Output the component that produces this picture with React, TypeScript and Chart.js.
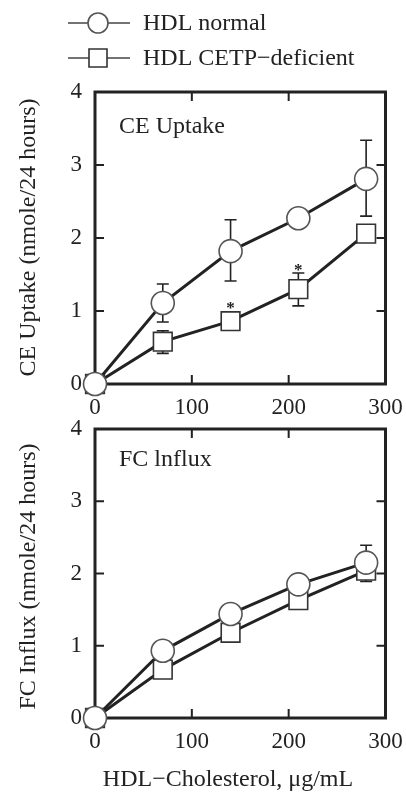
import React, { useEffect, useRef } from "react";
import { Chart, registerables } from "chart.js";

Chart.register(...registerables);

const FONT = "'Liberation Serif', 'Times New Roman', serif";
const INK = "#222222";

// ---- data ----
const doses = [0, 70, 140, 210, 280];
const legendLabels = ["HDL normal", "HDL CETP\u2212deficient"];

const ceNormal = [0, 1.11, 1.82, 2.27, 2.81];
const ceNormalHi = [null, 1.37, 2.25, null, 3.34];
const ceNormalLo = [null, 0.85, 1.41, null, 2.3];
const ceDeficient = [0, 0.58, 0.86, 1.3, 2.06];
const ceDeficientHi = [null, 0.73, null, 1.52, null];
const ceDeficientLo = [null, 0.42, null, 1.07, null];
const ceStars = [null, null, 1.09, 1.62, null];

const fcNormal = [0, 0.93, 1.44, 1.85, 2.15];
const fcNormalHi = [null, null, null, null, 2.39];
const fcNormalLo = [null, null, null, null, null];
const fcDeficient = [0, 0.67, 1.18, 1.63, 2.04];
const fcDeficientHi = [null, null, null, null, null];
const fcDeficientLo = [null, null, null, null, 1.89];
const fcStars = [null, null, null, null, null];

const xMin = 0, xMax = 300, xStep = 100;
const yMin = 0, yMax = 4, yStep = 1;

type Nullable = (number | null)[];

interface Panel {
  normal: number[];
  normalHi: Nullable;
  normalLo: Nullable;
  deficient: number[];
  deficientHi: Nullable;
  deficientLo: Nullable;
  stars: Nullable;
  panelTitle: string;
  yTitle: string;
  showLegend: boolean;
  showXTitle: boolean;
  canvasTop: number;
  canvasHeight: number;
  areaTop: number;
  areaBottom: number;
  yTitleY: number;
  panelTitleY: number;
}

const AREA_LEFT = 95;
const AREA_RIGHT = 385.5;
const W = 406;

const panels: Panel[] = [
  {
    normal: ceNormal, normalHi: ceNormalHi, normalLo: ceNormalLo,
    deficient: ceDeficient, deficientHi: ceDeficientHi, deficientLo: ceDeficientLo,
    stars: ceStars,
    panelTitle: "CE Uptake",
    yTitle: "CE Uptake (nmole/24 hours)",
    showLegend: true, showXTitle: false,
    canvasTop: 0, canvasHeight: 425, areaTop: 92, areaBottom: 384,
    yTitleY: 237.5, panelTitleY: 133,
  },
  {
    normal: fcNormal, normalHi: fcNormalHi, normalLo: fcNormalLo,
    deficient: fcDeficient, deficientHi: fcDeficientHi, deficientLo: fcDeficientLo,
    stars: fcStars,
    panelTitle: "FC lnflux",
    yTitle: "FC Influx (nmole/24 hours)",
    showLegend: false, showXTitle: true,
    canvasTop: 412, canvasHeight: 382, areaTop: 17, areaBottom: 306,
    yTitleY: 164.5, panelTitleY: 54,
  },
];

function drawCircle(ctx: CanvasRenderingContext2D, x: number, y: number, r: number) {
  ctx.beginPath();
  ctx.arc(x, y, r, 0, Math.PI * 2);
  ctx.fillStyle = "#ffffff";
  ctx.fill();
  ctx.lineWidth = 1.6;
  ctx.strokeStyle = "#555555";
  ctx.stroke();
}

function drawSquare(ctx: CanvasRenderingContext2D, x: number, y: number, h: number) {
  ctx.beginPath();
  ctx.rect(x - h, y - h, 2 * h, 2 * h);
  ctx.fillStyle = "#ffffff";
  ctx.fill();
  ctx.lineWidth = 1.6;
  ctx.strokeStyle = "#333333";
  ctx.stroke();
}

function makeDecor(p: Panel) {
  return {
    id: "decor",
    beforeDatasetsDraw(chart: any) {
      const ctx: CanvasRenderingContext2D = chart.ctx;
      const { left, right, top, bottom } = chart.chartArea;
      const xs = chart.scales.x;
      const ys = chart.scales.y;
      ctx.save();
      // frame
      ctx.strokeStyle = INK;
      ctx.lineWidth = 3;
      ctx.strokeRect(left, top, right - left, bottom - top);
      // inner ticks
      ctx.lineWidth = 2;
      const tl = 9;
      for (let v = xMin + xStep; v < xMax; v += xStep) {
        const px = xs.getPixelForValue(v);
        ctx.beginPath();
        ctx.moveTo(px, bottom);
        ctx.lineTo(px, bottom - tl);
        ctx.moveTo(px, top);
        ctx.lineTo(px, top + tl);
        ctx.stroke();
      }
      for (let v = yMin + yStep; v < yMax; v += yStep) {
        const py = ys.getPixelForValue(v);
        ctx.beginPath();
        ctx.moveTo(left, py);
        ctx.lineTo(left + tl, py);
        ctx.moveTo(right, py);
        ctx.lineTo(right - tl, py);
        ctx.stroke();
      }
      // error bars
      ctx.lineWidth = 1.6;
      ctx.strokeStyle = INK;
      const cap = 6;
      const series: [number[], Nullable, Nullable][] = [
        [p.deficient, p.deficientHi, p.deficientLo],
        [p.normal, p.normalHi, p.normalLo],
      ];
      series.forEach(([vals, hi, lo]) => {
        doses.forEach((d, i) => {
          const px = xs.getPixelForValue(d);
          const pv = ys.getPixelForValue(vals[i]);
          [hi[i], lo[i]].forEach((e) => {
            if (e === null || e === undefined) return;
            const pe = ys.getPixelForValue(e);
            ctx.beginPath();
            ctx.moveTo(px, pv);
            ctx.lineTo(px, pe);
            ctx.moveTo(px - cap, pe);
            ctx.lineTo(px + cap, pe);
            ctx.stroke();
          });
        });
      });
      ctx.restore();
    },
    afterDatasetsDraw(chart: any) {
      const ctx: CanvasRenderingContext2D = chart.ctx;
      const xs = chart.scales.x;
      const ys = chart.scales.y;
      ctx.save();
      ctx.fillStyle = INK;
      ctx.font = `bold 17px ${FONT}`;
      ctx.textAlign = "center";
      ctx.textBaseline = "alphabetic";
      doses.forEach((d, i) => {
        const s = p.stars[i];
        if (s === null || s === undefined) return;
        ctx.fillText("*", xs.getPixelForValue(d), ys.getPixelForValue(s) + 9);
      });
      ctx.restore();
    },
    afterDraw(chart: any) {
      const ctx: CanvasRenderingContext2D = chart.ctx;
      ctx.save();
      ctx.fillStyle = INK;
      ctx.font = `24px ${FONT}`;
      // panel title
      ctx.textAlign = "left";
      ctx.textBaseline = "alphabetic";
      ctx.fillText(p.panelTitle, 119, p.panelTitleY);
      // y title
      ctx.save();
      ctx.translate(29, p.yTitleY);
      ctx.rotate(-Math.PI / 2);
      ctx.textAlign = "center";
      ctx.textBaseline = "middle";
      ctx.fillText(p.yTitle, 0, 0);
      ctx.restore();
      // x title
      if (p.showXTitle) {
        ctx.textAlign = "center";
        ctx.textBaseline = "middle";
        ctx.fillText("HDL\u2212Cholesterol, \u03bcg/mL", 228, 368);
      }
      // legend
      if (p.showLegend) {
        const rows = [23, 58];
        rows.forEach((ry, i) => {
          ctx.beginPath();
          ctx.strokeStyle = "#444444";
          ctx.lineWidth = 1.6;
          ctx.moveTo(68, ry);
          ctx.lineTo(130, ry);
          ctx.stroke();
          if (i === 0) drawCircle(ctx, 98, ry, 10);
          else drawSquare(ctx, 98, ry, 9);
          ctx.fillStyle = INK;
          ctx.textAlign = "left";
          ctx.textBaseline = "middle";
          ctx.font = `24px ${FONT}`;
          ctx.fillText(legendLabels[i], 143, ry + 0.5);
        });
      }
      ctx.restore();
    },
  };
}

function PanelChart({ p }: { p: Panel }) {
  const ref = useRef<HTMLCanvasElement | null>(null);
  useEffect(() => {
    if (!ref.current) return;
    const chart = new Chart(ref.current, {
      type: "line",
      data: {
        datasets: [
          {
            label: legendLabels[0],
            data: doses.map((d, i) => ({ x: d, y: p.normal[i] })),
            borderColor: INK,
            borderWidth: 3,
            pointStyle: "circle",
            pointRadius: 11.5,
            pointBackgroundColor: "#ffffff",
            pointBorderColor: "#555555",
            pointBorderWidth: 1.6,
            clip: false,
            tension: 0,
          },
          {
            label: legendLabels[1],
            data: doses.map((d, i) => ({ x: d, y: p.deficient[i] })),
            borderColor: INK,
            borderWidth: 3,
            pointStyle: "rect",
            pointRadius: 13.2,
            pointBackgroundColor: "#ffffff",
            pointBorderColor: "#333333",
            pointBorderWidth: 1.6,
            clip: false,
            tension: 0,
          },
        ],
      },
      options: {
        animation: false,
        responsive: false,
        events: [],
        layout: {
          padding: { left: 0, top: p.areaTop, right: W - AREA_RIGHT, bottom: 0 },
        },
        plugins: {
          legend: { display: false },
          tooltip: { enabled: false },
          title: { display: false },
        },
        scales: {
          x: {
            type: "linear",
            min: xMin,
            max: xMax,
            grid: { display: false, drawTicks: false },
            border: { display: false },
            ticks: {
              stepSize: xStep,
              padding: 10,
              color: INK,
              font: { family: FONT, size: 23 },
              maxRotation: 0,
            },
            afterFit: (s: any) => {
              s.height = p.canvasHeight - p.areaBottom;
              s.paddingLeft = 0;
              s.paddingRight = 0;
              s.paddingTop = 0;
              s.paddingBottom = 0;
            },
          },
          y: {
            type: "linear",
            min: yMin,
            max: yMax,
            grid: { display: false, drawTicks: false },
            border: { display: false },
            ticks: {
              stepSize: yStep,
              padding: 13,
              color: INK,
              font: { family: FONT, size: 23 },
            },
            afterFit: (s: any) => {
              s.width = AREA_LEFT;
              s.paddingLeft = 0;
              s.paddingRight = 0;
              s.paddingTop = 0;
              s.paddingBottom = 0;
            },
          },
        },
      },
      plugins: [makeDecor(p)],
    } as any);
    return () => chart.destroy();
  }, [p]);
  return (
    <canvas
      ref={ref}
      width={W}
      height={p.canvasHeight}
      style={{ position: "absolute", left: 0, top: p.canvasTop, width: W, height: p.canvasHeight }}
    />
  );
}

export default function App() {
  return (
    <div style={{ position: "absolute", left: 0, top: 0, width: W, height: 794, background: "#ffffff", overflow: "hidden" }}>
      {panels.map((p, i) => (
        <PanelChart key={i} p={p} />
      ))}
    </div>
  );
}
